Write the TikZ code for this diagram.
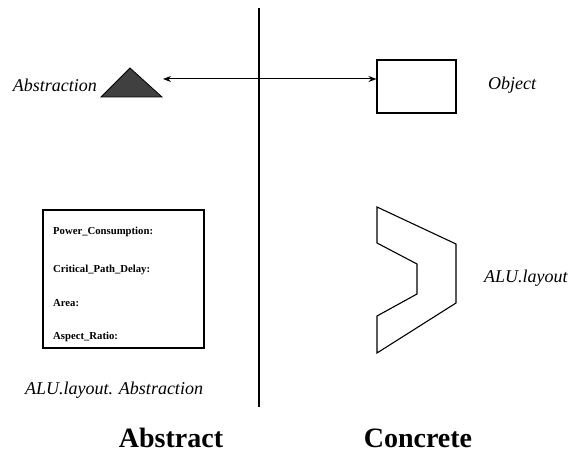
\documentclass[tikz,border=0pt]{standalone}
\usepackage{fontspec}
\setmainfont{Liberation Serif}
\usetikzlibrary{arrows.meta}
\begin{document}
\begin{tikzpicture}[x=1pt,y=-1pt,
  lbl/.style={font=\fontsize{18}{20}\selectfont\itshape, inner sep=0pt},
  big/.style={font=\fontsize{28}{30}\selectfont\bfseries, inner sep=0pt},
  attr/.style={font=\fontsize{10.7}{12}\selectfont\bfseries, inner sep=0pt, anchor=west},
  outl/.style={draw=black, line width=1.1pt}]
\useasboundingbox (0,0) rectangle (573,454);
% divider
\coordinate (dtop) at (259,8);
\coordinate (dbot) at (259,407);
\draw[line width=2.8pt] (dtop) -- (dbot);
% triangle (abstraction)
\coordinate (t1) at (130,68);
\coordinate (t2) at (162,97);
\coordinate (t3) at (101,97);
\filldraw[fill=black!75, draw=black, line width=0.8pt] (t1) -- (t2) -- (t3) -- cycle;
\node[lbl, anchor=east] (abs) at (97,85) {Abstraction};
% object rectangle
\node[outl, minimum width=79pt, minimum height=53pt, inner sep=0pt] (obj) at (416.5,86.5) {};
\node[lbl, anchor=west] (objl) at (488,85) {Object};
% double arrow
\coordinate (al) at (163,79);
\draw[{Stealth[length=8pt,width=6pt]}-{Stealth[length=8pt,width=6pt]}, line width=1pt] (al) -- (obj.west |- al);
% attribute box
\node[outl, minimum width=161pt, minimum height=138pt, inner sep=0pt] (box) at (123.5,279) {};
\node[attr] (a1) at (53,232) {Power\_Consumption:};
\node[attr] (a2) at (53,270) {Critical\_Path\_Delay:};
\node[attr] (a3) at (53,303) {Area:};
\node[attr] (a4) at (53,337) {Aspect\_Ratio:};
\node[lbl] (alua) at (114,390) {ALU.layout. Abstraction};
% ALU layout shape
\draw[outl, line join=miter] (377,207) -- (456,244) -- (456,303) -- (377,353) -- (377,316) -- (417,294) -- (417,264) -- (377,243) -- cycle;
\node[lbl, anchor=west] (alu) at (484,278) {ALU.layout};
% headings
\node[big, anchor=base] (ha) at (171,447) {Abstract};
\node[big, anchor=base] (hc) at (418,447) {Concrete};
\end{tikzpicture}
\end{document}
